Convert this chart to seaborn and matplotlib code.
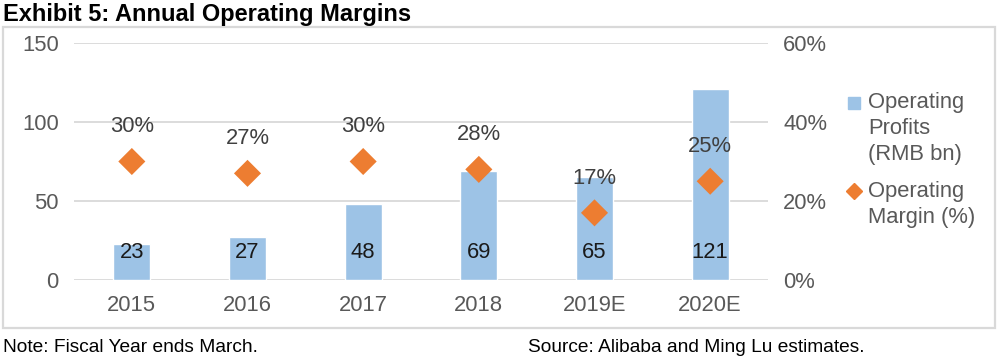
import matplotlib
matplotlib.use("Agg")
import matplotlib.pyplot as plt
import seaborn as sns
from matplotlib.patches import Rectangle
from matplotlib.lines import Line2D
from matplotlib.ticker import FuncFormatter

years = ["2015", "2016", "2017", "2018", "2019E", "2020E"]
profits = [23, 27, 48, 69, 65, 121]
margins = [30, 27, 30, 28, 17, 25]

sns.set_style("white")
plt.rcParams["font.family"] = ["Liberation Sans", "DejaVu Sans"]

bar_color = "#9DC3E6"
dot_color = "#ED7D31"
grey = "#595959"
grid = "#D9D9D9"
W, H = 1005, 361

fig = plt.figure(figsize=(10.05, 3.61), dpi=100)
# axes: x 74..768 px, y 43..280 px
ax = fig.add_axes([74 / W, 1 - 280 / H, 694 / W, 237 / H])

# outer frame
fig.patches.append(Rectangle((3 / W, 1 - 328 / H), 992 / W, 301 / H,
                             transform=fig.transFigure, fill=False,
                             edgecolor=grid, linewidth=1.6))

sns.barplot(x=years, y=profits, color=bar_color, width=0.32, saturation=1, ax=ax)
ax.set_ylim(0, 150)
ax.set_yticks([0, 50, 100, 150])
ax.grid(axis="y", color=grid, linewidth=1.3)
ax.set_axisbelow(True)
for s in ax.spines.values():
    s.set_visible(False)
ax.tick_params(axis="both", colors=grey, labelsize=15.8, length=0)
ax.tick_params(axis="x", pad=11)
ax.tick_params(axis="y", pad=11)
ax.set_xlabel("")
ax.set_ylabel("")

for i, v in enumerate(profits):
    ax.text(i, 17.5, str(v), ha="center", va="center", fontsize=15.8, color="#1a1a1a")

ax2 = ax.twinx()
sns.scatterplot(x=years, y=margins, marker="D", s=190, color=dot_color,
                edgecolor="none", ax=ax2, zorder=5)
ax2.set_ylim(0, 60)
ax2.set_yticks([0, 20, 40, 60])
ax2.yaxis.set_major_formatter(FuncFormatter(lambda v, p: f"{v:.0f}%"))
ax2.tick_params(axis="y", colors=grey, labelsize=15.8, length=0, pad=11)
for s in ax2.spines.values():
    s.set_visible(False)
ax2.set_ylabel("")
ax.set_xlim(-0.5, len(years) - 0.5)

for i, m in enumerate(margins):
    ax2.annotate(f"{m}%", (i, m), xytext=(0, 25), textcoords="offset points",
                 ha="center", va="center", fontsize=15.8, color="#404040")

# legend, drawn by hand so the marker sits on the first text line
fig.add_artist(Line2D([854 / W], [1 - 103 / H], transform=fig.transFigure,
                      marker="s", markersize=9, color=bar_color, linestyle="none"))
fig.add_artist(Line2D([854 / W], [1 - 191 / H], transform=fig.transFigure,
                      marker="D", markersize=8.5, color=dot_color, linestyle="none"))
fig.text(868 / W, 1 - 128.5 / H, "Operating\nProfits\n(RMB bn)", fontsize=15.8,
         color=grey, ha="left", va="center", linespacing=1.32)
fig.text(868 / W, 1 - 204.5 / H, "Operating\nMargin (%)", fontsize=15.8,
         color=grey, ha="left", va="center", linespacing=1.32)

fig.text(3 / W, 1 - 3 / H, "Exhibit 5: Annual Operating Margins", fontsize=17,
         fontweight="bold", ha="left", va="top", color="black")
fig.text(3 / W, 1 - 347 / H, "Note: Fiscal Year ends March.", fontsize=13.8,
         ha="left", va="center", color="black")
fig.text(528 / W, 1 - 347 / H, "Source: Alibaba and Ming Lu estimates.", fontsize=13.8,
         ha="left", va="center", color="black")

fig.savefig("out.png", dpi=100)
